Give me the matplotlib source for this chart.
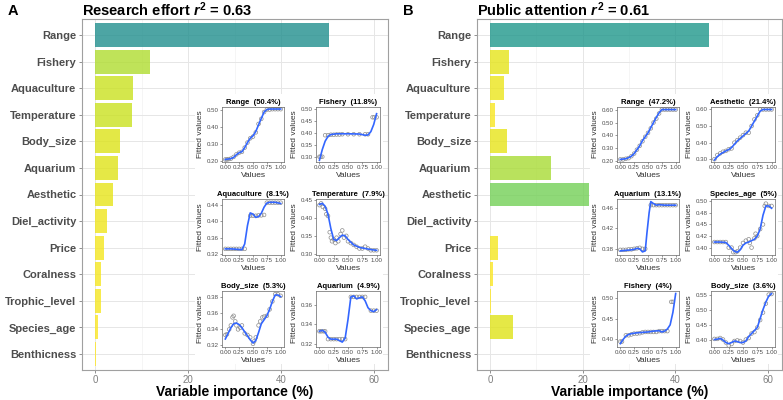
import numpy as np
import matplotlib
matplotlib.use('Agg')
import matplotlib.pyplot as plt
from matplotlib import cm
from matplotlib.patches import Rectangle

plt.rcParams['font.family'] = ['Liberation Sans', 'DejaVu Sans']
plt.rcParams['mathtext.fontset'] = 'custom'
plt.rcParams['mathtext.rm'] = 'Liberation Sans:bold'
plt.rcParams['mathtext.it'] = 'Liberation Sans:bold:italic'
plt.rcParams['mathtext.bf'] = 'Liberation Sans:bold'

# ---------------- data ----------------
variables = ["Range", "Fishery", "Aquaculture", "Temperature", "Body_size", "Aquarium",
             "Aesthetic", "Diel_activity", "Price", "Coralness", "Trophic_level",
             "Species_age", "Benthicness"]
imp_research = [50.4, 11.8, 8.1, 7.9, 5.3, 4.9, 3.8, 2.6, 1.9, 1.3, 1.3, 0.7, 0.2]
imp_public = [47.2, 4.0, 3.0, 1.0, 3.6, 13.1, 21.4, 0.1, 1.7, 0.6, 0.2, 5.0, 0.1]
x_ticks = [0, 20, 40, 60]

# Research effort partial dependence insets
a_range_lx = [0, 0.1, 0.15, 0.2, 0.25, 0.3, 0.35, 0.4, 0.45, 0.5, 0.55, 0.62, 0.7, 0.75, 0.8, 0.9, 1.0]
a_range_ly = [0.21, 0.215, 0.222, 0.238, 0.25, 0.256, 0.28, 0.31, 0.335, 0.35, 0.375, 0.43, 0.49, 0.505, 0.508, 0.508, 0.508]
a_range_px = [0, 0.03, 0.06, 0.1, 0.15, 0.2, 0.25, 0.3, 0.35, 0.4, 0.45, 0.5, 0.55, 0.6, 0.65, 0.7, 0.75, 0.8, 0.85, 0.9, 0.95, 1.0]
a_range_py = [0.21, 0.21, 0.212, 0.215, 0.225, 0.24, 0.25, 0.255, 0.28, 0.31, 0.335, 0.345, 0.37, 0.42, 0.45, 0.49, 0.505, 0.505, 0.507, 0.507, 0.507, 0.507]

a_fish_lx = [0, 0.05, 0.1, 0.15, 0.2, 0.3, 0.5, 0.7, 0.8, 0.85, 0.9, 0.95, 1.0]
a_fish_ly = [0.285, 0.33, 0.365, 0.385, 0.393, 0.396, 0.396, 0.395, 0.39, 0.391, 0.405, 0.435, 0.48]
a_fish_px = [0, 0.02, 0.05, 0.1, 0.15, 0.2, 0.25, 0.3, 0.35, 0.4, 0.5, 0.6, 0.7, 0.8, 0.85, 0.93, 0.96, 1.0]
a_fish_py = [0.30, 0.30, 0.30, 0.39, 0.39, 0.392, 0.392, 0.393, 0.393, 0.394, 0.394, 0.394, 0.394, 0.394, 0.394, 0.465, 0.465, 0.465]

a_aqua_lx = [0, 0.1, 0.2, 0.3, 0.35, 0.4, 0.45, 0.5, 0.55, 0.6, 0.65, 0.7, 0.75, 0.8, 0.9, 1.0]
a_aqua_ly = [0.333, 0.333, 0.332, 0.331, 0.345, 0.39, 0.421, 0.418, 0.41, 0.412, 0.42, 0.435, 0.445, 0.447, 0.447, 0.444]
a_aqua_px = [0, 0.05, 0.1, 0.15, 0.2, 0.25, 0.3, 0.35, 0.45, 0.5, 0.55, 0.6, 0.65, 0.7, 0.75, 0.8, 0.85, 0.9, 0.95, 1.0]
a_aqua_py = [0.333, 0.333, 0.333, 0.333, 0.333, 0.333, 0.333, 0.333, 0.414, 0.414, 0.414, 0.415, 0.415, 0.416, 0.446, 0.446, 0.446, 0.446, 0.446, 0.446]

a_temp_lx = [0, 0.05, 0.1, 0.15, 0.2, 0.25, 0.3, 0.35, 0.4, 0.45, 0.5, 0.6, 0.7, 0.8, 0.9, 1.0]
a_temp_ly = [0.437, 0.44, 0.432, 0.41, 0.37, 0.34, 0.337, 0.345, 0.352, 0.35, 0.34, 0.325, 0.318, 0.315, 0.312, 0.31]
a_temp_px = [0, 0.03, 0.06, 0.1, 0.12, 0.15, 0.18, 0.2, 0.22, 0.25, 0.28, 0.3, 0.33, 0.37, 0.4, 0.43, 0.47, 0.5, 0.55, 0.6, 0.65, 0.7, 0.75, 0.8, 0.85, 0.9, 0.95, 1.0]
a_temp_py = [0.435, 0.44, 0.43, 0.425, 0.41, 0.405, 0.36, 0.345, 0.335, 0.34, 0.33, 0.345, 0.335, 0.355, 0.365, 0.345, 0.35, 0.335, 0.33, 0.325, 0.32, 0.315, 0.315, 0.32, 0.315, 0.31, 0.31, 0.31]

a_body_lx = [0, 0.05, 0.1, 0.15, 0.2, 0.25, 0.3, 0.35, 0.4, 0.45, 0.5, 0.55, 0.6, 0.65, 0.7, 0.75, 0.8, 0.85, 0.9, 0.95, 1.0]
a_body_ly = [0.328, 0.335, 0.342, 0.347, 0.348, 0.346, 0.342, 0.337, 0.332, 0.327, 0.323, 0.326, 0.336, 0.347, 0.352, 0.357, 0.365, 0.375, 0.383, 0.383, 0.381]
a_body_px = [0, 0.03, 0.07, 0.1, 0.13, 0.15, 0.18, 0.2, 0.23, 0.27, 0.3, 0.35, 0.4, 0.45, 0.5, 0.52, 0.55, 0.6, 0.63, 0.67, 0.7, 0.75, 0.8, 0.85, 0.9, 0.95, 1.0]
a_body_py = [0.333, 0.334, 0.34, 0.345, 0.355, 0.357, 0.35, 0.345, 0.34, 0.342, 0.345, 0.335, 0.333, 0.33, 0.322, 0.325, 0.33, 0.345, 0.35, 0.355, 0.356, 0.357, 0.365, 0.375, 0.384, 0.384, 0.382]

a_aqr_lx = [0, 0.05, 0.1, 0.15, 0.2, 0.3, 0.4, 0.45, 0.5, 0.55, 0.6, 0.65, 0.7, 0.75, 0.8, 0.85, 0.9, 0.95, 1.0]
a_aqr_ly = [0.333, 0.334, 0.332, 0.327, 0.325, 0.325, 0.322, 0.326, 0.345, 0.368, 0.369, 0.366, 0.367, 0.368, 0.364, 0.357, 0.354, 0.353, 0.355]
a_aqr_px = [0, 0.03, 0.07, 0.1, 0.15, 0.2, 0.25, 0.3, 0.35, 0.4, 0.45, 0.55, 0.6, 0.65, 0.7, 0.75, 0.8, 0.9, 0.95, 1.0]
a_aqr_py = [0.333, 0.333, 0.333, 0.333, 0.325, 0.325, 0.325, 0.325, 0.325, 0.325, 0.325, 0.368, 0.368, 0.368, 0.368, 0.368, 0.368, 0.354, 0.354, 0.354]

# Public attention partial dependence insets
b_range_lx = [0, 0.1, 0.15, 0.2, 0.25, 0.3, 0.35, 0.4, 0.45, 0.5, 0.55, 0.6, 0.65, 0.7, 0.75, 0.8, 1.0]
b_range_ly = [0.215, 0.22, 0.228, 0.24, 0.26, 0.29, 0.32, 0.36, 0.39, 0.42, 0.46, 0.5, 0.54, 0.575, 0.6, 0.6, 0.6]
b_range_px = [0, 0.05, 0.1, 0.15, 0.2, 0.25, 0.3, 0.35, 0.4, 0.45, 0.5, 0.55, 0.6, 0.65, 0.7, 0.75, 0.8, 0.85, 0.9, 0.95, 1.0]
b_range_py = [0.215, 0.215, 0.22, 0.225, 0.24, 0.26, 0.29, 0.32, 0.355, 0.39, 0.42, 0.455, 0.5, 0.53, 0.57, 0.6, 0.6, 0.6, 0.6, 0.6, 0.6]

b_aest_lx = [0, 0.05, 0.1, 0.15, 0.2, 0.25, 0.3, 0.35, 0.4, 0.45, 0.5, 0.55, 0.6, 0.65, 0.7, 0.75, 0.8, 0.85, 0.9, 1.0]
b_aest_ly = [0.295, 0.315, 0.33, 0.34, 0.35, 0.358, 0.37, 0.39, 0.41, 0.425, 0.44, 0.455, 0.47, 0.5, 0.53, 0.56, 0.59, 0.6, 0.6, 0.6]
b_aest_px = [0, 0.05, 0.1, 0.15, 0.2, 0.25, 0.3, 0.35, 0.4, 0.45, 0.5, 0.55, 0.6, 0.65, 0.7, 0.75, 0.8, 0.85, 0.9, 0.95, 1.0]
b_aest_py = [0.3, 0.325, 0.335, 0.345, 0.35, 0.36, 0.365, 0.4, 0.415, 0.43, 0.445, 0.46, 0.46, 0.5, 0.54, 0.565, 0.6, 0.6, 0.6, 0.6, 0.6]

b_aqr_lx = [0, 0.1, 0.2, 0.25, 0.3, 0.35, 0.4, 0.45, 0.48, 0.52, 0.55, 0.6, 0.65, 0.7, 0.8, 0.9, 1.0]
b_aqr_ly = [0.376, 0.377, 0.378, 0.379, 0.381, 0.38, 0.374, 0.376, 0.41, 0.45, 0.472, 0.468, 0.465, 0.466, 0.465, 0.465, 0.465]
b_aqr_px = [0, 0.05, 0.1, 0.15, 0.2, 0.25, 0.3, 0.35, 0.4, 0.45, 0.55, 0.6, 0.65, 0.7, 0.75, 0.8, 0.85, 0.9, 0.95, 1.0]
b_aqr_py = [0.378, 0.378, 0.378, 0.379, 0.379, 0.38, 0.381, 0.382, 0.38, 0.38, 0.465, 0.465, 0.465, 0.465, 0.465, 0.465, 0.465, 0.465, 0.465, 0.465]

b_age_lx = [0, 0.1, 0.2, 0.25, 0.3, 0.35, 0.4, 0.45, 0.5, 0.55, 0.6, 0.65, 0.7, 0.75, 0.8, 0.85, 0.9, 0.95, 1.0]
b_age_ly = [0.412, 0.412, 0.411, 0.405, 0.398, 0.392, 0.39, 0.395, 0.405, 0.41, 0.412, 0.415, 0.418, 0.425, 0.44, 0.47, 0.49, 0.49, 0.485]
b_age_px = [0, 0.05, 0.1, 0.15, 0.2, 0.25, 0.3, 0.33, 0.37, 0.4, 0.45, 0.5, 0.55, 0.6, 0.62, 0.65, 0.7, 0.72, 0.75, 0.8, 0.85, 0.88, 0.9, 0.95, 1.0]
b_age_py = [0.412, 0.412, 0.412, 0.412, 0.412, 0.4, 0.4, 0.39, 0.39, 0.392, 0.4, 0.41, 0.415, 0.418, 0.41, 0.4, 0.42, 0.43, 0.425, 0.44, 0.45, 0.49, 0.495, 0.49, 0.49]

b_fish_lx = [0, 0.05, 0.1, 0.15, 0.2, 0.3, 0.4, 0.5, 0.6, 0.7, 0.75, 0.8, 0.85, 0.9, 0.95, 1.0]
b_fish_ly = [0.39, 0.4, 0.408, 0.412, 0.414, 0.416, 0.417, 0.418, 0.42, 0.421, 0.418, 0.42, 0.425, 0.435, 0.465, 0.51]
b_fish_px = [0, 0.03, 0.1, 0.15, 0.2, 0.25, 0.3, 0.35, 0.4, 0.45, 0.5, 0.55, 0.6, 0.65, 0.7, 0.75, 0.8, 0.85, 0.92, 0.95]
b_fish_py = [0.395, 0.395, 0.41, 0.41, 0.412, 0.414, 0.414, 0.415, 0.417, 0.418, 0.418, 0.418, 0.418, 0.418, 0.42, 0.42, 0.42, 0.42, 0.49, 0.49]

b_body_lx = [0, 0.05, 0.1, 0.15, 0.2, 0.25, 0.3, 0.35, 0.4, 0.45, 0.5, 0.55, 0.6, 0.65, 0.7, 0.75, 0.8, 0.85, 0.9, 0.95, 1.0]
b_body_ly = [0.4, 0.401, 0.404, 0.398, 0.39, 0.386, 0.39, 0.395, 0.393, 0.39, 0.39, 0.395, 0.41, 0.42, 0.43, 0.44, 0.47, 0.5, 0.525, 0.545, 0.553]
b_body_px = [0, 0.05, 0.1, 0.15, 0.2, 0.25, 0.3, 0.35, 0.4, 0.45, 0.5, 0.55, 0.6, 0.65, 0.7, 0.75, 0.8, 0.85, 0.9, 0.95, 1.0]
b_body_py = [0.402, 0.402, 0.405, 0.4, 0.39, 0.38, 0.385, 0.395, 0.397, 0.395, 0.39, 0.4, 0.405, 0.42, 0.425, 0.44, 0.465, 0.49, 0.52, 0.55, 0.552]

inset_x_ticks = [0.0, 0.25, 0.5, 0.75, 1.0]

# ---------------- figure ----------------
W, H = 783, 400
fig = plt.figure(figsize=(W / 100, H / 100), dpi=100)


def px_axes(l, t, r, b, **kw):
    return fig.add_axes([l / W, 1 - b / H, (r - l) / W, (b - t) / H], **kw)


def main_panel(l, r, values, letter, title):
    ax = px_axes(l, 19, r, 370)
    n = len(variables)
    pos = np.arange(n)
    cols = [cm.viridis(1 - v / 100) for v in values]
    ax.barh(pos, values, height=0.9, color=cols, alpha=0.8, zorder=2)
    ax.set_ylim(n - 1 + 0.6, -0.6)
    ax.set_xlim(-2.8, 63)
    ax.set_yticks(pos)
    ax.set_yticklabels(variables, fontsize=8, fontweight='bold', color='#4d4d4d')
    ax.set_xticks(x_ticks)
    ax.set_xticklabels([str(t) for t in x_ticks], fontsize=7, color='#7f7f7f')
    ax.set_xticks([10, 30, 50], minor=True)
    ax.tick_params(axis='both', which='major', length=2.5, color='#7f7f7f', width=0.6, pad=1.5)
    ax.tick_params(axis='x', which='major', pad=0.8)
    ax.tick_params(axis='x', which='minor', length=0)
    ax.grid(True, which='major', color='#e6e6e6', linewidth=0.7, zorder=0)
    ax.grid(True, which='minor', axis='x', color='#f2f2f2', linewidth=0.5, zorder=0)
    ax.set_axisbelow(True)
    for s in ax.spines.values():
        s.set_color('#a0a0a0')
        s.set_linewidth(0.8)
    fig.text((l + r) / 2 / W, 1 - 392 / H, 'Variable importance (%)', fontsize=10,
             fontweight='bold', va='center', ha='center')
    fig.text((l - 74) / W, 1 - 11 / H, letter, fontsize=10.5, fontweight='bold', va='center', ha='left')
    fig.text(l / W, 1 - 10 / H, title, fontsize=10.5, fontweight='bold', va='center', ha='left')
    return ax


main_panel(82, 388, imp_research, 'A', r'Research effort $r^2$ = 0.63')
main_panel(477, 782, imp_public, 'B', r'Public attention $r^2$ = 0.61')


def inset(l, t, r, b, title, lx, ly, ptx, pty, yticks, ylabels, ylim):
    ax = px_axes(l, t, r, b, zorder=3)
    ax.set_facecolor('white')
    ax.scatter(ptx, pty, s=7, facecolors='none', edgecolors='#8c8c8c', linewidths=0.5, zorder=2)
    ax.plot(lx, ly, color='#3366FF', linewidth=1.2, zorder=3)
    ax.set_xlim(-0.06, 1.06)
    ax.set_ylim(*ylim)
    ax.set_xticks(inset_x_ticks)
    ax.set_xticklabels(['0.00', '0.25', '0.50', '0.75', '1.00'], fontsize=4.4, color='#4d4d4d')
    ax.set_yticks(yticks)
    ax.set_yticklabels(ylabels, fontsize=4.4, color='#4d4d4d')
    ax.tick_params(length=1.5, width=0.4, pad=1, color='#4d4d4d')
    for s in ax.spines.values():
        s.set_color('#666666')
        s.set_linewidth(0.5)
    ax.set_xlabel('Values', fontsize=6, color='#333333', labelpad=1)
    ax.set_ylabel('Fitted values', fontsize=6, color='#333333', labelpad=1.5)
    ax.set_title(title, fontsize=5.5, fontweight='bold', pad=2.5)


def lbl(vals, fmt='{:.2f}'):
    return [fmt.format(v) for v in vals]


for off in (0, 395):
    fig.patches.append(Rectangle(((195 + off) / W, 1 - 364 / H), 188 / W, 270 / H,
                                 transform=fig.transFigure, facecolor='white',
                                 edgecolor='none', zorder=1))

cols_x = [(222, 284), (316, 380)]
rows_y = [(107, 162), (199, 255), (291, 347)]

a_specs = [
    ('Range  (50.4%)', a_range_lx, a_range_ly, a_range_px, a_range_py, [0.2, 0.3, 0.4, 0.5], None, (0.195, 0.52)),
    ('Fishery  (11.8%)', a_fish_lx, a_fish_ly, a_fish_px, a_fish_py, [0.30, 0.35, 0.40, 0.45, 0.50], None, (0.278, 0.508)),
    ('Aquaculture  (8.1%)', a_aqua_lx, a_aqua_ly, a_aqua_px, a_aqua_py, [0.32, 0.36, 0.40, 0.44], None, (0.318, 0.455)),
    ('Temperature  (7.9%)', a_temp_lx, a_temp_ly, a_temp_px, a_temp_py, [0.30, 0.35, 0.40, 0.45], None, (0.297, 0.452)),
    ('Body_size  (5.3%)', a_body_lx, a_body_ly, a_body_px, a_body_py, [0.32, 0.34, 0.36, 0.38], None, (0.318, 0.388)),
    ('Aquarium  (4.9%)', a_aqr_lx, a_aqr_ly, a_aqr_px, a_aqr_py, [0.32, 0.34, 0.36], None, (0.317, 0.374)),
]
b_specs = [
    ('Range  (47.2%)', b_range_lx, b_range_ly, b_range_px, b_range_py, [0.2, 0.3, 0.4, 0.5, 0.6], None, (0.195, 0.62)),
    ('Aesthetic  (21.4%)', b_aest_lx, b_aest_ly, b_aest_px, b_aest_py, [0.3, 0.4, 0.5, 0.6], None, (0.283, 0.615)),
    ('Aquarium  (13.1%)', b_aqr_lx, b_aqr_ly, b_aqr_px, b_aqr_py, [0.38, 0.42, 0.46], None, (0.368, 0.477)),
    ('Species_age  (5%)', b_age_lx, b_age_ly, b_age_px, b_age_py, [0.4, 0.425, 0.45, 0.475, 0.5],
     ['0.40', '0.42', '0.45', '0.48', '0.50'], (0.384, 0.505)),
    ('Fishery  (4%)', b_fish_lx, b_fish_ly, b_fish_px, b_fish_py, [0.40, 0.45, 0.50], None, (0.382, 0.516)),
    ('Body_size  (3.6%)', b_body_lx, b_body_ly, b_body_px, b_body_py, [0.40, 0.45, 0.50, 0.55], None, (0.375, 0.562)),
]

for off, specs in ((0, a_specs), (395, b_specs)):
    for i, sp in enumerate(specs):
        title, lx, ly, ptx, pty, yt, yl, ylim = sp
        cx = cols_x[i % 2]
        ry = rows_y[i // 2]
        inset(cx[0] + off, ry[0], cx[1] + off, ry[1], title, lx, ly, ptx, pty,
              yt, yl if yl is not None else lbl(yt), ylim)

fig.savefig('out.png', dpi=100)
